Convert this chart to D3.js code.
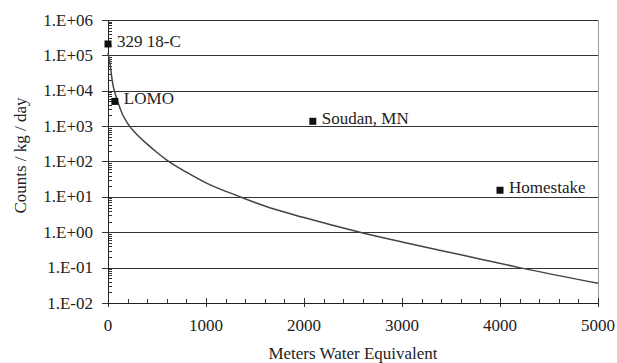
<!DOCTYPE html>
<html>
<head>
<meta charset="utf-8">
<script src="https://cdn.jsdelivr.net/npm/d3@7"></script>
<style>
  body { margin: 0; background: #fff; }
  svg text { font-family: "Times New Roman", Times, Tinos, "Liberation Serif", "Noto Serif", "DejaVu Serif", serif; fill: #222; }
</style>
</head>
<body>
<div id="graph"></div>
<script>
// Chart size and plot margins
const graph = { width: 617, height: 363 };
const margin = { top: 20, right: 19, bottom: 60, left: 108 };

// Depth in meters water equivalent and intensity along the fitted curve
const curveDepth = [0, 10, 20, 35, 50, 75, 100, 150, 200, 300, 400, 500, 600, 800, 1000, 1350, 1600, 2000, 2570, 3000, 3600, 4200, 5000];
const curveRate  = [1.2e5, 8.5e4, 6e4, 2.8e4, 1.5e4, 8e3, 4.8e3, 2.1e3, 1.2e3, 560, 310, 180, 110, 50, 25, 10, 5.5, 2.6, 1.0, 0.53, 0.23, 0.1, 0.036];

// Measured sites
const siteNames = ['329 18-C', 'LOMO', 'Soudan, MN', 'Homestake'];
const siteDepth = [0, 70, 2090, 4000];
const siteRate  = [2.1e5, 5e3, 1.37e3, 15.4];

// Axis ticks
const xTicks = [0, 1000, 2000, 3000, 4000, 5000];
const yTicks = [1e-2, 1e-1, 1e0, 1e1, 1e2, 1e3, 1e4, 1e5, 1e6];
const yTickLabels = ['1.E-02', '1.E-01', '1.E+00', '1.E+01', '1.E+02', '1.E+03', '1.E+04', '1.E+05', '1.E+06'];

const svg = d3.select('#graph').append('svg')
  .attr('width', graph.width)
  .attr('height', graph.height);

const x = d3.scaleLinear().domain([0, 5000]).range([margin.left, graph.width - margin.right]);
const y = d3.scaleLog().domain([1e-2, 1e6]).range([graph.height - margin.bottom, margin.top]);

const x0 = x(0), x1 = x(5000), y0 = y(1e-2), y1 = y(1e6);

// Horizontal gridlines at each decade
svg.selectAll('.grid')
  .data(yTicks.slice(1))
  .enter().append('line')
    .attr('x1', x0).attr('x2', x1)
    .attr('y1', d => Math.round(y(d)) + 0.5)
    .attr('y2', d => Math.round(y(d)) + 0.5)
    .attr('stroke', '#333').attr('stroke-width', 1);

// Right border of plot area
svg.append('line')
  .attr('x1', Math.round(x1) + 0.5).attr('x2', Math.round(x1) + 0.5)
  .attr('y1', y1).attr('y2', y0)
  .attr('stroke', '#999');

// Minor ticks on the log axis (inside)
const minor = [];
yTicks.slice(0, -1).forEach(d => { for (let k = 2; k < 10; k++) minor.push(d * k); });
svg.selectAll('.yminor')
  .data(minor)
  .enter().append('line')
    .attr('x1', Math.round(x0)).attr('x2', Math.round(x0) + 4)
    .attr('y1', d => Math.round(y(d)) + 0.5).attr('y2', d => Math.round(y(d)) + 0.5)
    .attr('stroke', '#333');

// Major y ticks and labels
svg.selectAll('.ymajor')
  .data(yTicks)
  .enter().append('line')
    .attr('x1', Math.round(x0) - 6).attr('x2', Math.round(x0) + 4)
    .attr('y1', d => Math.round(y(d)) + 0.5).attr('y2', d => Math.round(y(d)) + 0.5)
    .attr('stroke', '#333');

svg.selectAll('.ylab')
  .data(yTicks)
  .enter().append('text')
    .attr('x', x0 - 15)
    .attr('y', d => y(d))
    .attr('dy', '0.33em')
    .attr('text-anchor', 'end')
    .style('font-size', '17px')
    .text((d, i) => yTickLabels[i]);

// Minor x ticks every 200 (inside)
svg.selectAll('.xminor')
  .data(d3.range(200, 5000, 200).filter(d => d % 1000 !== 0))
  .enter().append('line')
    .attr('x1', d => Math.round(x(d)) + 0.5).attr('x2', d => Math.round(x(d)) + 0.5)
    .attr('y1', Math.round(y0) - 4).attr('y2', Math.round(y0))
    .attr('stroke', '#333');

// Major x ticks and labels
svg.selectAll('.xmajor')
  .data(xTicks)
  .enter().append('line')
    .attr('x1', d => Math.round(x(d)) + 0.5).attr('x2', d => Math.round(x(d)) + 0.5)
    .attr('y1', Math.round(y0) - 5).attr('y2', Math.round(y0) + 4)
    .attr('stroke', '#333');

svg.selectAll('.xlab')
  .data(xTicks)
  .enter().append('text')
    .attr('x', d => x(d))
    .attr('y', y0 + 28)
    .attr('text-anchor', 'middle')
    .style('font-size', '17px')
    .text(d => d);

// Axis lines
svg.append('line')
  .attr('x1', Math.round(x0) + 0.5).attr('x2', Math.round(x0) + 0.5)
  .attr('y1', y1).attr('y2', y0 + 0.5)
  .attr('stroke', '#222');
svg.append('line')
  .attr('x1', x0).attr('x2', x1 + 0.5)
  .attr('y1', Math.round(y0) + 0.5).attr('y2', Math.round(y0) + 0.5)
  .attr('stroke', '#222');

// Intensity curve
const line = d3.line()
  .x((d, i) => x(curveDepth[i]))
  .y(d => y(d))
  .curve(d3.curveMonotoneX);

svg.append('path')
  .datum(curveRate)
  .attr('d', line)
  .attr('fill', 'none')
  .attr('stroke', '#444')
  .attr('stroke-width', 1.5);

// Site markers and labels
svg.selectAll('.site')
  .data(siteRate)
  .enter().append('rect')
    .attr('x', (d, i) => x(siteDepth[i]) - 3.5)
    .attr('y', d => y(d) - 3.5)
    .attr('width', 7).attr('height', 7)
    .attr('fill', '#111');

svg.selectAll('.sitelab')
  .data(siteRate)
  .enter().append('text')
    .attr('x', (d, i) => x(siteDepth[i]) + 9)
    .attr('y', d => y(d) - 3)
    .attr('dy', '0.33em')
    .style('font-size', '17px')
    .text((d, i) => siteNames[i]);

// Axis titles
svg.append('text')
  .attr('x', (x0 + x1) / 2)
  .attr('y', graph.height - 4)
  .attr('text-anchor', 'middle')
  .style('font-size', '17px')
  .text('Meters Water Equivalent');

svg.append('text')
  .attr('transform', `translate(26, ${(y0 + y1) / 2 - 6}) rotate(-90)`)
  .attr('text-anchor', 'middle')
  .style('font-size', '17px')
  .text('Counts / kg / day');
</script>
</body>
</html>
